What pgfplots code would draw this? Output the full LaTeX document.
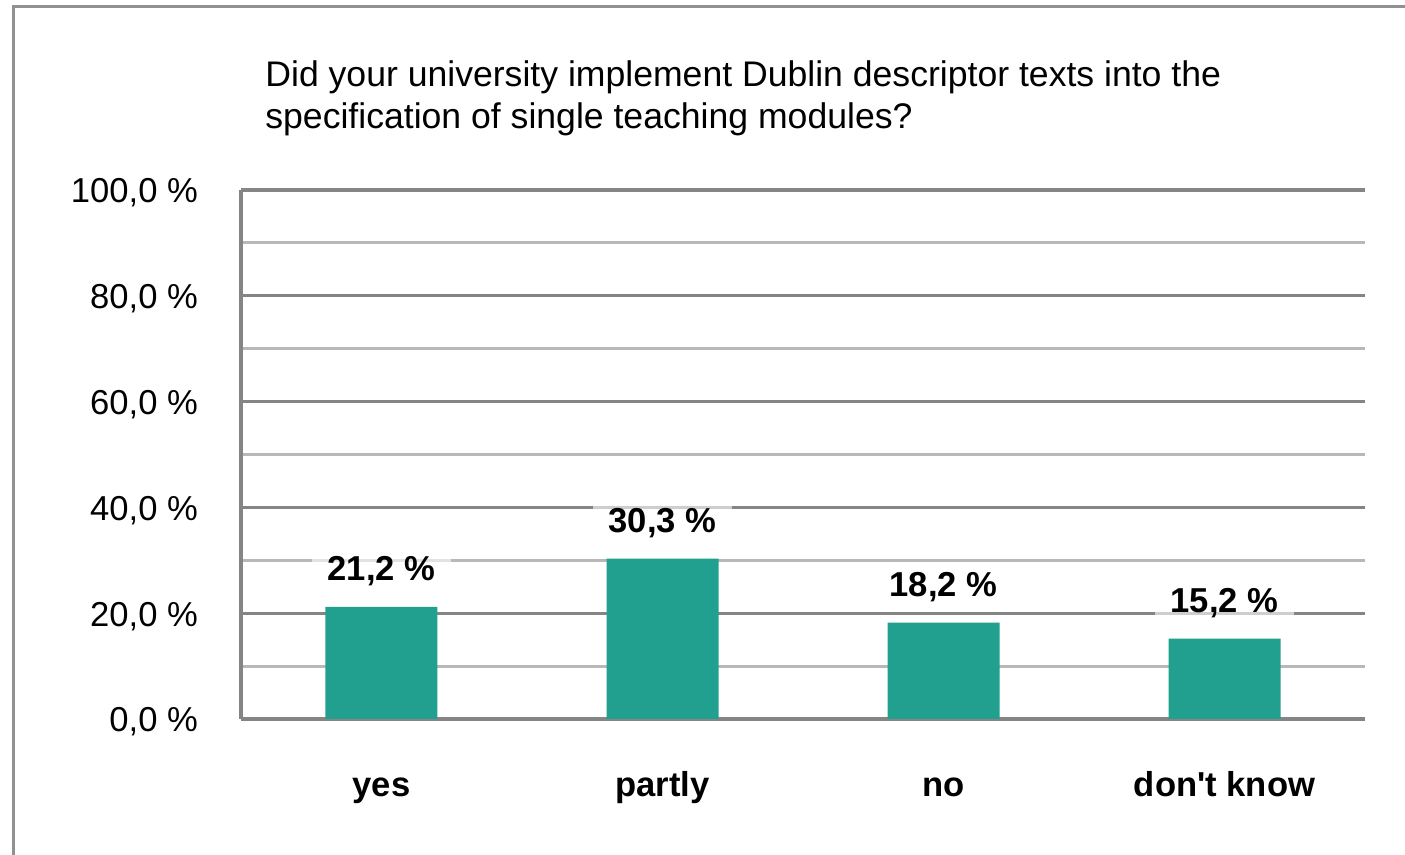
\documentclass[border=0pt]{standalone}
\usepackage{pgfplots}
\pgfplotsset{compat=1.18}
\usepackage{fontspec}
\setmainfont{Liberation Sans}
\definecolor{bargreen}{RGB}{34,160,143}
\definecolor{majgray}{RGB}{133,133,133}
\definecolor{mingray}{RGB}{184,184,184}
\definecolor{framegray}{RGB}{145,145,145}
\begin{document}
\begin{tikzpicture}
\path[use as bounding box] (0,0) rectangle (702.5pt,427.5pt);
\draw[framegray, line width=1.5pt] (6.5pt,0pt) -- (6.5pt,424pt) -- (702.5pt,424pt);
\node[anchor=base west, inner sep=0pt, font=\fontsize{17.8}{20}\selectfont] at (132.5pt,384pt) {Did your university implement Dublin descriptor texts into the};
\node[anchor=base west, inner sep=0pt, font=\fontsize{17.8}{20}\selectfont] at (132.5pt,363pt) {specification of single teaching modules?};
\begin{axis}[
  at={(120.5pt,68pt)}, anchor=south west,
  scale only axis, width=562pt, height=264.5pt,
  xmin=-0.5, xmax=3.5, ymin=0, ymax=100,
  axis x line*=bottom, axis y line*=left,
  axis line style={-, majgray, line width=1.6pt},
  xtick={0,1,2,3},
  xticklabels={yes,partly,no,don\textquotesingle t know},
  xticklabel style={font=\fontsize{17.3}{20}\selectfont\bfseries, anchor=base, yshift=-39pt},
  ytick={0,20,40,60,80,100},
  yticklabels={{0,0 \%},{20,0 \%},{40,0 \%},{60,0 \%},{80,0 \%},{100,0 \%}},
  yticklabel style={font=\fontsize{17.3}{20}\selectfont, xshift=-18pt, yshift=-1.5pt},
  minor ytick={10,30,50,70,90},
  major tick length=0pt, minor tick length=0pt,
  ymajorgrids, yminorgrids,
  major grid style={majgray, line width=1.6pt},
  minor grid style={mingray, line width=1.5pt},
  ybar, bar width=56pt,
  nodes near coords={\pgfmathprintnumber[fixed, fixed zerofill, precision=1, use comma, assume math mode=true]{\pgfplotspointmeta}~\%},
  nodes near coords style={font=\fontsize{17.3}{20}\selectfont\bfseries, text=black, anchor=base, yshift=13pt, fill=white, fill opacity=0.6, text opacity=1, inner xsep=8pt, inner ysep=2pt},
  clip=false,
]
\addplot[fill=bargreen, draw=none] coordinates {(0,21.2) (1,30.3) (2,18.2) (3,15.2)};
\end{axis}
\end{tikzpicture}
\end{document}
